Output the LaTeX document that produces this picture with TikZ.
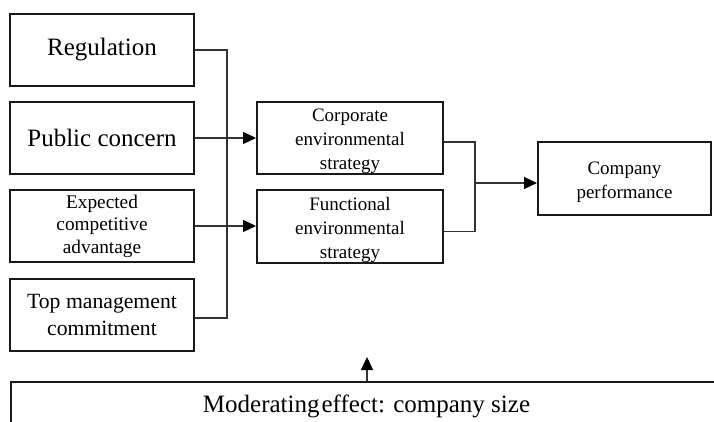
\documentclass[tikz,border=0pt]{standalone}
\usepackage{fontspec}
\setmainfont{Liberation Serif}
\usetikzlibrary{arrows.meta,calc}
\tikzset{
  box/.style={draw=black!90, line width=2pt, inner sep=0pt, align=center, fill=white},
  txt/.style={inner sep=0pt, align=center},
  conn/.style={draw=black!80, line width=1.3pt},
  arr/.style={conn, -{Triangle[length=13pt,width=12pt,fill=black,color=black]}},
  fbig/.style={font=\fontsize{25}{30}\selectfont},
  fmid/.style={font=\fontsize{21.7}{27}\selectfont},
  fsm/.style={font=\fontsize{19.3}{22.5}\selectfont},
  fsmb/.style={font=\fontsize{19}{24}\selectfont},
}
\begin{document}
\begin{tikzpicture}[x=1pt,y=-1pt]
\useasboundingbox (0,0) rectangle (714,422);
\clip (0,0) rectangle (714,422);
\fill[white] (0,0) rectangle (714,422);
% left column
\node[box,fbig,minimum width=184pt,minimum height=72pt] (reg) at (102,50) {Regulation};
\node[box,fbig,minimum width=184pt,minimum height=72pt] (pub) at (102,138) {Public concern};
\node[box,fsm,minimum width=184pt,minimum height=72pt] (exp) at (102,226) {Expected\\competitive\\advantage};
\node[box,fmid,minimum width=184pt,minimum height=72pt] (top) at (102,315) {Top management\\commitment};
% middle column
\node[box,minimum width=186pt,minimum height=72pt] (corp) at (350,138) {};
\node[txt,fsmb] (corptext) at ([yshift=-3pt]corp.center) {Corporate\\environmental\\strategy};
\node[box,minimum width=186pt,minimum height=73pt] (func) at (350,226.5) {};
\node[txt,fsmb] (functext) at ([yshift=-3pt]func.center) {Functional\\environmental\\strategy};
% right
\node[box,minimum width=173pt,minimum height=73pt] (perf) at (624.5,178.5) {};
\node[txt,fsmb] (perftext) at ([yshift=-3.5pt]perf.center) {Company\\performance};
% moderating
\node[box,minimum width=720pt,minimum height=60pt,anchor=north west] (mod) at (10,381) {};
\node[fbig,inner sep=0pt,anchor=base] (modtext) at (366.5,412) {Moderating\hspace{0.08em}effect: company size};
% trunk
\coordinate (trunk) at (227,0);
\draw[conn] (reg.east) -- (reg.east -| trunk) -- ([yshift=-3pt]top.east -| trunk) -- ([yshift=-3pt]top.east);
\draw[arr] (pub.east) -- (corp.west);
\draw[arr] (exp.east) -- (func.west |- exp.east);
% merge
\coordinate (merge) at (475,0);
\draw[conn] ([yshift=-4pt]corp.east) -- ([yshift=-4pt]corp.east -| merge) -- ([yshift=-5pt]func.east -| merge) -- ([yshift=-5pt]func.east);
\draw[arr] ([yshift=-4.5pt]perf.west -| merge) -- ([yshift=-4.5pt]perf.west);
% moderating arrow
\coordinate (modtip) at (367,357);
\draw[arr] (modtip |- mod.north) -- (modtip);
\end{tikzpicture}
\end{document}
